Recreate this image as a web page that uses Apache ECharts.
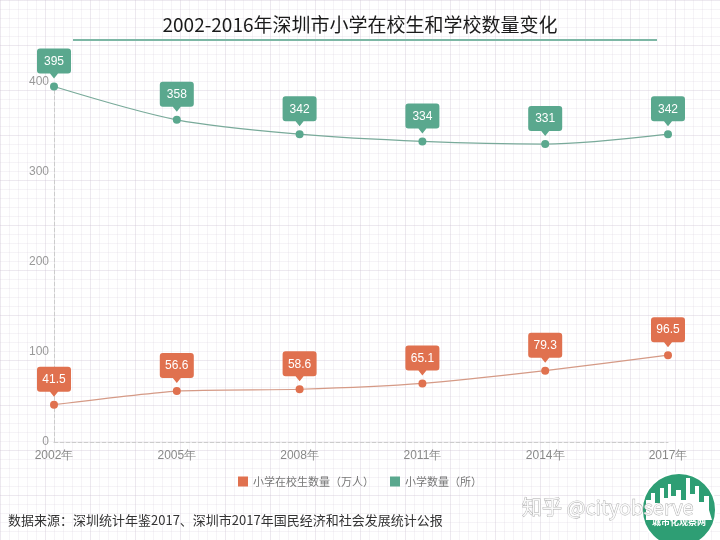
<!DOCTYPE html>
<html lang="zh">

<head>
    <meta charset="UTF-8">
    <title>深圳市小学在校生和学校数量变化</title>
    <script src="https://cdn.jsdelivr.net/npm/echarts@6.0.0/dist/echarts.min.js"></script>
    <style>
        html, body { margin: 0; padding: 0; }
        #main {
            width: 720px;
            height: 540px;
            background-color: #fff;
            background-image:
                linear-gradient(to right, rgba(205, 195, 210, 0.22) 1px, transparent 1px),
                linear-gradient(to bottom, rgba(205, 195, 210, 0.22) 1px, transparent 1px),
                linear-gradient(to right, rgba(228, 222, 232, 0.35) 1px, transparent 1px),
                linear-gradient(to bottom, rgba(228, 222, 232, 0.35) 1px, transparent 1px);
            background-size: 45px 45px, 45px 45px, 9px 9px, 9px 9px;
        }
    </style>
</head>

<body>
    <div id="main"></div>
    <script type="text/javascript">
        // chart data
        const years = ['2002年', '2005年', '2008年', '2011年', '2014年', '2017年'];
        const students = [41.5, 56.6, 58.6, 65.1, 79.3, 96.5];   // 小学在校生数量（万人）
        const schools = [395, 358, 342, 334, 331, 342];         // 小学数量（所）
        const yTicks = [0, 100, 200, 300, 400];

        const orange = '#e0714f';
        const teal = '#5aa88e';

        // speech bubble with a little pointer at the bottom
        const bubble = 'path://M3,0 H31 Q34,0 34,3 V22 Q34,25 31,25 H21 L17,30 L13,25 H3 Q0,25 0,22 V3 Q0,0 3,0 Z';

        function bubbles(values, color) {
            return {
                symbol: bubble,
                symbolSize: [34, 30],
                symbolOffset: [0, -23],
                itemStyle: { color: color },
                label: {
                    show: true,
                    formatter: '{c}',
                    color: '#fff',
                    fontSize: 12,
                    offset: [0, -2]
                },
                data: values.map((v, i) => ({ coord: [i, v], value: v }))
            };
        }

        // skyline inside the logo, rough shape only
        const skyline = [
            [646, 520], [646, 500], [651, 500], [651, 493], [655, 493], [655, 503], [660, 503],
            [660, 488], [664, 488], [664, 498], [668, 498], [668, 484], [671, 484], [671, 496],
            [676, 496], [676, 490], [681, 490], [681, 500], [686, 500], [686, 478], [690, 478],
            [690, 494], [695, 494], [695, 486], [699, 486], [699, 502], [704, 502], [704, 496],
            [709, 496], [709, 510], [712, 520]
        ];

        let options = {
            backgroundColor: 'transparent',
            title: {
                text: '2002-2016年深圳市小学在校生和学校数量变化',
                left: 'center',
                top: 10,
                textStyle: { fontSize: 19, fontWeight: 'normal', color: '#1a1a1a', fontFamily: 'Noto Sans CJK SC' }
            },
            legend: {
                bottom: 48,
                left: 'center',
                itemWidth: 10,
                itemHeight: 10,
                itemGap: 16,
                icon: 'rect',
                textStyle: { fontSize: 11, color: '#777', fontFamily: 'Noto Sans CJK SC' },
                data: ['小学在校生数量（万人）', '小学数量（所）']
            },
            grid: { left: 54, right: 52, top: 82, bottom: 98 },
            xAxis: {
                type: 'category',
                data: years,
                boundaryGap: false,
                axisLine: { lineStyle: { color: '#ccc', type: 'dashed' } },
                axisTick: { show: false },
                axisLabel: { color: '#888', fontSize: 12, margin: 8 },
                splitLine: { show: false }
            },
            yAxis: {
                type: 'value',
                min: yTicks[0],
                max: yTicks[yTicks.length - 1],
                interval: 100,
                axisLine: { show: true, lineStyle: { color: '#ccc', type: 'dashed' } },
                axisTick: { show: false },
                axisLabel: { color: '#999', fontSize: 12, margin: 5 },
                splitLine: { show: false }
            },
            series: [
                {
                    name: '小学在校生数量（万人）',
                    type: 'line',
                    data: students,
                    smooth: 0.2,
                    symbol: 'circle',
                    symbolSize: 8,
                    itemStyle: { color: orange },
                    lineStyle: { color: '#d59a86', width: 1.2 },
                    markPoint: bubbles(students, orange)
                },
                {
                    name: '小学数量（所）',
                    type: 'line',
                    data: schools,
                    smooth: 0.3,
                    symbol: 'circle',
                    symbolSize: 8,
                    itemStyle: { color: teal },
                    lineStyle: { color: '#79aa9a', width: 1.2 },
                    markPoint: bubbles(schools, teal)
                }
            ],
            graphic: [
                // line under the title
                { type: 'rect', shape: { x: 73, y: 39, width: 584, height: 2 }, style: { fill: '#7db7a5' } },
                // source note
                {
                    type: 'text', left: 8, top: 514,
                    style: { text: '数据来源：深圳统计年鉴2017、深圳市2017年国民经济和社会发展统计公报', fill: '#333', fontSize: 13, fontFamily: 'Noto Sans CJK SC' }
                },
                // logo
                { type: 'circle', shape: { cx: 679, cy: 510, r: 37 }, style: { fill: '#2e9e74', stroke: '#fff', lineWidth: 2 } },
                { type: 'polygon', shape: { points: skyline }, style: { fill: '#fff' } },
                {
                    type: 'text', x: 679, y: 522,
                    style: { text: '城市化观察网', fill: '#fff', fontSize: 9, align: 'center', verticalAlign: 'middle', fontFamily: 'Noto Sans CJK SC', fontWeight: 'bold' }
                },
                // watermark
                {
                    type: 'text', x: 522, y: 497, z: 100,
                    style: { text: '知乎 @cityobserve', fill: 'rgba(255,255,255,0.85)', stroke: '#aaa', lineWidth: 0.8, fontSize: 20, fontFamily: 'Noto Sans CJK SC' }
                }
            ]
        };

        let myChart = echarts.init(document.getElementById('main'));
        myChart.setOption(options);
    </script>
</body>

</html>
